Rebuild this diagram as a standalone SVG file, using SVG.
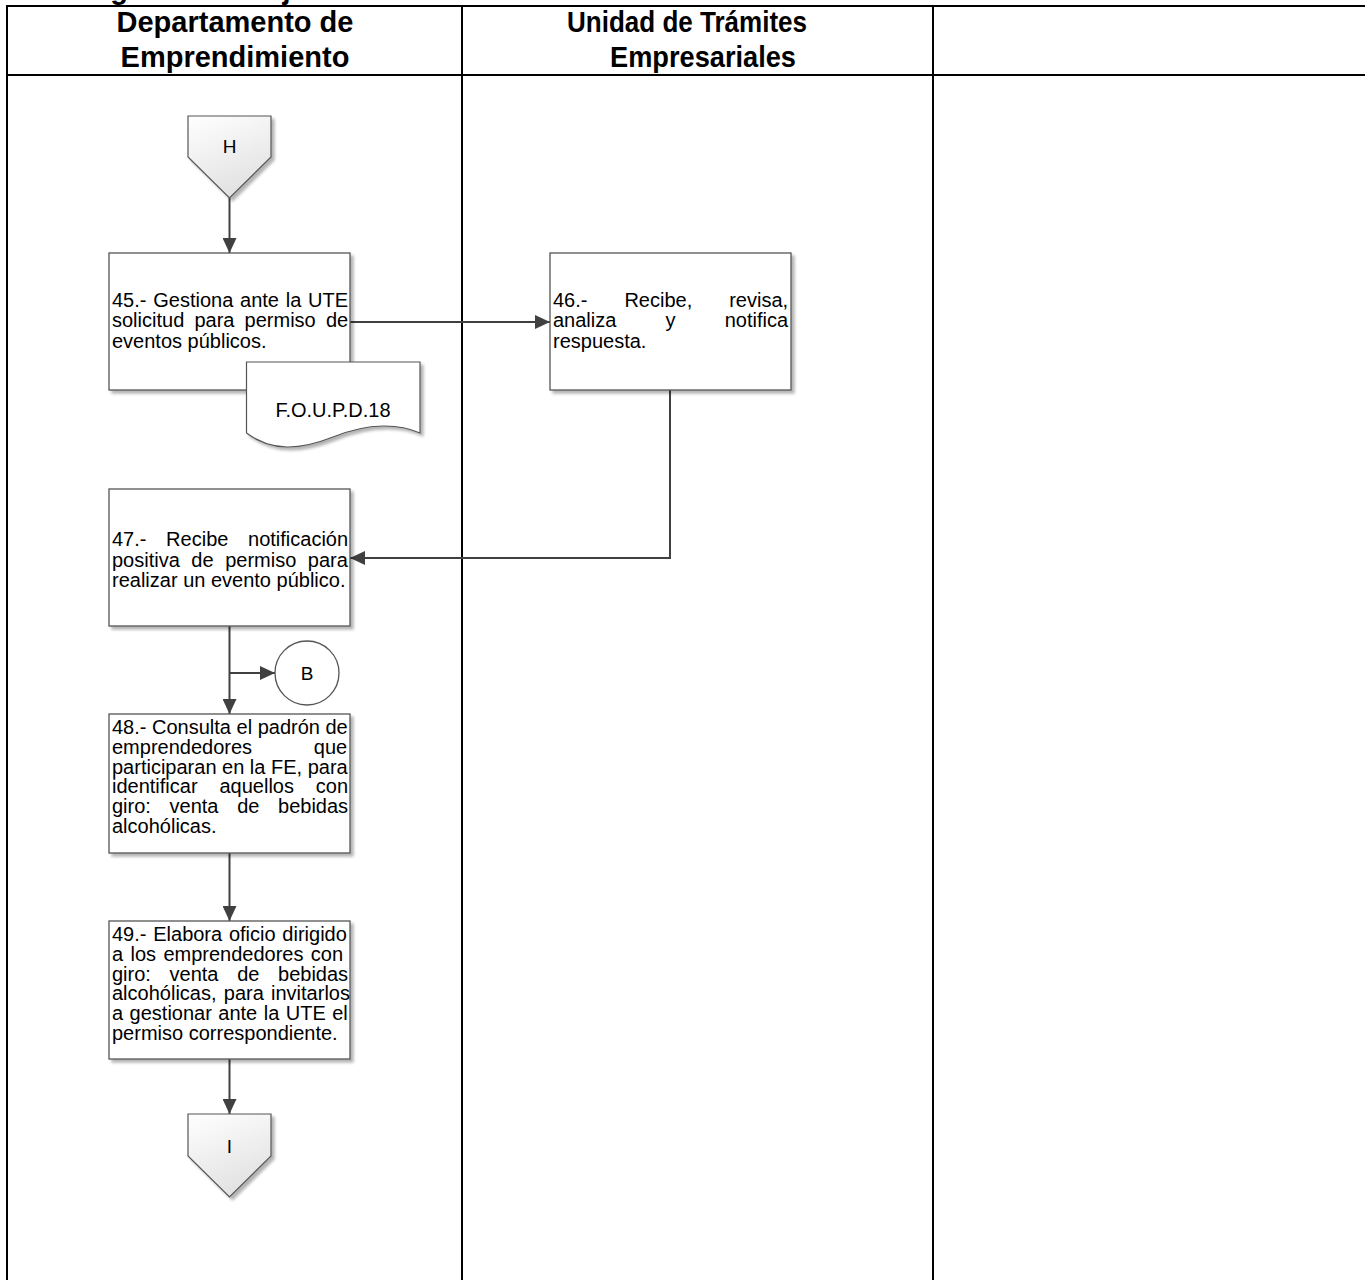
<svg xmlns="http://www.w3.org/2000/svg" width="1365" height="1280" viewBox="0 0 1365 1280">
  <style>
    .grid { stroke: #000; stroke-width: 2; fill: none; }
    .hdr { font-family: "Liberation Sans", Arial, sans-serif; font-weight: bold; font-size: 29px; fill: #000; }
    .box { fill: #fff; stroke: #555; stroke-width: 1.3; }
    .shp { stroke: #555; stroke-width: 1.2; }
    .t { font-family: "Liberation Sans", Arial, sans-serif; font-size: 20px; fill: #000; }
    .lbl { font-family: "Liberation Sans", Arial, sans-serif; font-size: 19px; fill: #000; text-anchor: middle; }
    .conn { fill: none; stroke: #404040; stroke-width: 2; }
  </style>
  <defs>
    <linearGradient id="offpage" x1="0" y1="0" x2="0.4" y2="1">
      <stop offset="0" stop-color="#ffffff"/>
      <stop offset="1" stop-color="#e2e2e2"/>
    </linearGradient>
    <filter id="shadow" x="-10%" y="-10%" width="130%" height="130%">
      <feGaussianBlur in="SourceAlpha" stdDeviation="1.5"/>
      <feOffset dx="3" dy="3" result="b"/>
      <feComponentTransfer><feFuncA type="linear" slope="0.3"/></feComponentTransfer>
      <feMerge><feMergeNode/><feMergeNode in="SourceGraphic"/></feMerge>
    </filter>
    <marker id="arrow" markerUnits="userSpaceOnUse" markerWidth="15" markerHeight="14" refX="15" refY="7" orient="auto">
      <path d="M0,0 L15,7 L0,14 Z" fill="#404040"/>
    </marker>
  </defs>

  <rect width="1365" height="1280" fill="#fff"/>

  <!-- page title, mostly above the sheet edge -->
  <text class="hdr" x="65" y="-1.5">Diagrama de flujo</text>

  <!-- swimlane table -->
  <g id="lanes">
    <line class="grid" x1="7" y1="6" x2="1365" y2="6"/>
    <line class="grid" x1="7" y1="75" x2="1365" y2="75"/>
    <line class="grid" x1="7" y1="5" x2="7" y2="1280"/>
    <line class="grid" x1="462" y1="5" x2="462" y2="1280"/>
    <line class="grid" x1="933" y1="5" x2="933" y2="1280"/>
    <text class="hdr" x="235" y="32" text-anchor="middle">Departamento de</text>
    <text class="hdr" x="235" y="67" text-anchor="middle">Emprendimiento</text>
    <text class="hdr" x="687" y="32" text-anchor="middle" textLength="240" lengthAdjust="spacingAndGlyphs">Unidad de Trámites</text>
    <text class="hdr" x="703" y="67" text-anchor="middle" textLength="186" lengthAdjust="spacingAndGlyphs">Empresariales</text>
  </g>

  <!-- connectors -->
  <g id="connectors">
    <line class="conn" x1="229.5" y1="198" x2="229.5" y2="253" marker-end="url(#arrow)"/>
    <line class="conn" x1="350" y1="322" x2="550" y2="322" marker-end="url(#arrow)"/>
    <path class="conn" d="M670,390 V558 H350" marker-end="url(#arrow)"/>
    <line class="conn" x1="229.5" y1="626" x2="229.5" y2="714" marker-end="url(#arrow)"/>
    <line class="conn" x1="229.5" y1="673" x2="275" y2="673" marker-end="url(#arrow)"/>
    <line class="conn" x1="229.5" y1="853" x2="229.5" y2="921" marker-end="url(#arrow)"/>
    <line class="conn" x1="229.5" y1="1059" x2="229.5" y2="1114" marker-end="url(#arrow)"/>
  </g>

  <!-- off-page reference H -->
  <g id="ref-H">
    <path class="shp" d="M188,116 H271 V157 L229.5,198 L188,157 Z" fill="url(#offpage)" filter="url(#shadow)"/>
    <text class="lbl" x="229.5" y="153">H</text>
  </g>

  <!-- step 45 -->
  <g id="step-45">
    <rect class="box" x="109" y="253" width="241" height="137" filter="url(#shadow)"/>
    <text class="t" x="112" y="306.5" style="word-spacing:1.2px">45.- Gestiona ante la UTE</text>
    <text class="t" x="112" y="327" style="word-spacing:4.6px">solicitud para permiso de</text>
    <text class="t" x="112" y="347.5">eventos públicos.</text>
  </g>

  <!-- form attached to step 45 -->
  <g id="doc-FOUPD18">
    <path class="shp" fill="#fff" filter="url(#shadow)" d="M246.5,362 H420 V433 C400,424 370,422 333,437 C300,450 272,452 246.5,433 Z"/>
    <text class="lbl" x="333" y="416.5" style="font-size:20px">F.O.U.P.D.18</text>
  </g>

  <!-- step 46 -->
  <g id="step-46">
    <rect class="box" x="550" y="253" width="241" height="137" filter="url(#shadow)"/>
    <text class="t" x="553" y="306.5" style="word-spacing:31.4px">46.- Recibe, revisa,</text>
    <text class="t" x="553" y="327" style="word-spacing:43.6px">analiza y notifica</text>
    <text class="t" x="553" y="347.5">respuesta.</text>
  </g>

  <!-- step 47 -->
  <g id="step-47">
    <rect class="box" x="109" y="489" width="241" height="137" filter="url(#shadow)"/>
    <text class="t" x="112" y="546" style="word-spacing:14.1px">47.- Recibe notificación</text>
    <text class="t" x="112" y="566.5" style="word-spacing:6px">positiva de permiso para</text>
    <text class="t" x="112" y="587">realizar un evento público.</text>
  </g>

  <!-- on-page connector B -->
  <g id="ref-B">
    <circle cx="307" cy="673" r="32" fill="#fff" stroke="#555" stroke-width="1.3"/>
    <text class="lbl" x="307" y="680">B</text>
  </g>

  <!-- step 48 -->
  <g id="step-48">
    <rect class="box" x="109" y="714" width="241" height="139" filter="url(#shadow)"/>
    <text class="t" x="112" y="734">48.- Consulta el padrón de</text>
    <text class="t" x="112" y="753.8" style="word-spacing:56.2px">emprendedores que</text>
    <text class="t" x="112" y="773.6">participaran en la FE, para</text>
    <text class="t" x="112" y="793.4" style="word-spacing:16.3px">identificar aquellos con</text>
    <text class="t" x="112" y="813.2" style="word-spacing:13.1px">giro: venta de bebidas</text>
    <text class="t" x="112" y="833">alcohólicas.</text>
  </g>

  <!-- step 49 -->
  <g id="step-49">
    <rect class="box" x="109" y="921" width="241" height="138" filter="url(#shadow)"/>
    <text class="t" x="112" y="941" style="word-spacing:1.2px">49.- Elabora oficio dirigido</text>
    <text class="t" x="112" y="960.8" style="word-spacing:1.8px">a los emprendedores con</text>
    <text class="t" x="112" y="980.6" style="word-spacing:13.1px">giro: venta de bebidas</text>
    <text class="t" x="112" y="1000.4" style="word-spacing:1.7px">alcohólicas, para invitarlos</text>
    <text class="t" x="112" y="1020.2" style="word-spacing:0.9px">a gestionar ante la UTE el</text>
    <text class="t" x="112" y="1040">permiso correspondiente.</text>
  </g>

  <!-- off-page reference I -->
  <g id="ref-I">
    <path class="shp" d="M188,1114 H271 V1156 L229.5,1197 L188,1156 Z" fill="url(#offpage)" filter="url(#shadow)"/>
    <text class="lbl" x="229.5" y="1153">I</text>
  </g>
</svg>
